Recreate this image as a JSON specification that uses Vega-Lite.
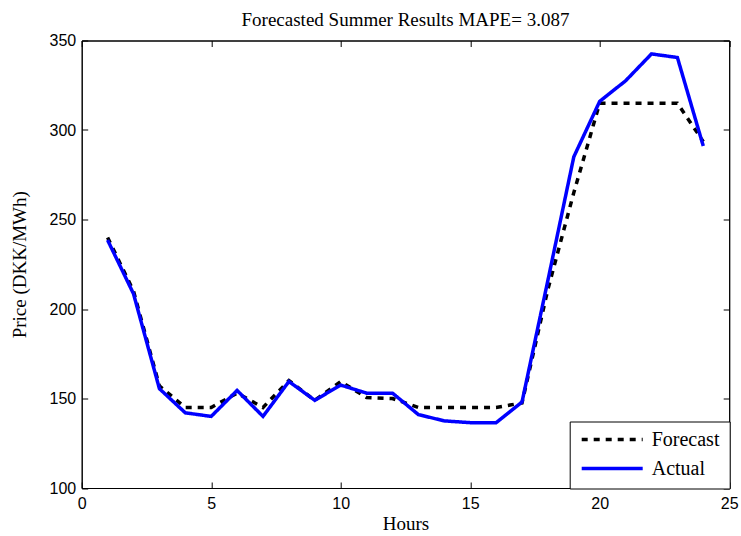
{
  "$schema": "https://vega.github.io/schema/vega-lite/v6.json",
  "autosize": "none",
  "width": 647.5,
  "height": 447.5,
  "padding": {"left": 81.7, "top": 40.5, "right": 11.8, "bottom": 48},
  "background": "white",
  "title": {
    "text": "Forecasted Summer Results MAPE= 3.087",
    "font": "Liberation Serif",
    "fontSize": 19,
    "fontWeight": "normal",
    "color": "black",
    "offset": 3
  },
  "config": {
    "view": {"stroke": "black", "strokeWidth": 1},
    "axis": {
      "domainColor": "black",
      "tickColor": "black",
      "grid": false,
      "labelFont": "Liberation Sans",
      "labelFontSize": 16,
      "labelColor": "black",
      "titleFont": "Liberation Serif",
      "titleFontSize": 19,
      "titleFontWeight": "normal",
      "titleColor": "black",
      "tickSize": -6
    },
    "legend": {
      "orient": "bottom-right",
      "offset": 0,
      "strokeColor": "black",
      "fillColor": "white",
      "padding": 10,
      "labelFont": "Liberation Serif",
      "labelFontSize": 20,
      "labelColor": "black",
      "labelOffset": 7,
      "symbolType": "stroke",
      "symbolSize": 3721,
      "symbolStrokeWidth": 3.5,
      "clipHeight": 16,
      "rowPadding": 9
    }
  },
  "data": {
    "values": [
      {"hour": 1, "series": "Forecast", "price": 240},
      {"hour": 2, "series": "Forecast", "price": 210},
      {"hour": 3, "series": "Forecast", "price": 157},
      {"hour": 4, "series": "Forecast", "price": 145},
      {"hour": 5, "series": "Forecast", "price": 145},
      {"hour": 6, "series": "Forecast", "price": 153},
      {"hour": 7, "series": "Forecast", "price": 145},
      {"hour": 8, "series": "Forecast", "price": 160},
      {"hour": 9, "series": "Forecast", "price": 149},
      {"hour": 10, "series": "Forecast", "price": 159.5},
      {"hour": 11, "series": "Forecast", "price": 150.5},
      {"hour": 12, "series": "Forecast", "price": 150},
      {"hour": 13, "series": "Forecast", "price": 145},
      {"hour": 14, "series": "Forecast", "price": 145},
      {"hour": 15, "series": "Forecast", "price": 145},
      {"hour": 16, "series": "Forecast", "price": 145},
      {"hour": 17, "series": "Forecast", "price": 147.5},
      {"hour": 18, "series": "Forecast", "price": 211},
      {"hour": 19, "series": "Forecast", "price": 265},
      {"hour": 20, "series": "Forecast", "price": 315},
      {"hour": 21, "series": "Forecast", "price": 315},
      {"hour": 22, "series": "Forecast", "price": 315},
      {"hour": 23, "series": "Forecast", "price": 315},
      {"hour": 24, "series": "Forecast", "price": 293.5},
      {"hour": 1, "series": "Actual", "price": 238.5},
      {"hour": 2, "series": "Actual", "price": 208.5},
      {"hour": 3, "series": "Actual", "price": 155.5},
      {"hour": 4, "series": "Actual", "price": 142},
      {"hour": 5, "series": "Actual", "price": 140},
      {"hour": 6, "series": "Actual", "price": 154.5},
      {"hour": 7, "series": "Actual", "price": 140},
      {"hour": 8, "series": "Actual", "price": 159.5},
      {"hour": 9, "series": "Actual", "price": 149},
      {"hour": 10, "series": "Actual", "price": 157.5},
      {"hour": 11, "series": "Actual", "price": 153},
      {"hour": 12, "series": "Actual", "price": 153},
      {"hour": 13, "series": "Actual", "price": 141},
      {"hour": 14, "series": "Actual", "price": 137.5},
      {"hour": 15, "series": "Actual", "price": 136.5},
      {"hour": 16, "series": "Actual", "price": 136.5},
      {"hour": 17, "series": "Actual", "price": 148},
      {"hour": 18, "series": "Actual", "price": 216},
      {"hour": 19, "series": "Actual", "price": 285},
      {"hour": 20, "series": "Actual", "price": 316},
      {"hour": 21, "series": "Actual", "price": 327.5},
      {"hour": 22, "series": "Actual", "price": 342.5},
      {"hour": 23, "series": "Actual", "price": 340.5},
      {"hour": 24, "series": "Actual", "price": 291}
    ]
  },
  "layer": [
    {
      "mark": {"type": "line", "strokeWidth": 3.5, "strokeCap": "butt", "strokeJoin": "miter"},
      "encoding": {
        "x": {
          "field": "hour", "type": "quantitative",
          "scale": {"domain": [0, 25], "nice": false, "zero": false},
          "axis": {"title": "Hours", "values": [0, 5, 10, 15, 20, 25], "labelPadding": 13, "titlePadding": 3, "labelFlush": false}
        },
        "y": {
          "field": "price", "type": "quantitative",
          "scale": {"domain": [100, 350], "nice": false, "zero": false},
          "axis": {"title": "Price (DKK/MWh)", "values": [100, 150, 200, 250, 300, 350], "labelPadding": 12, "titlePadding": 20, "labelFlush": false}
        },
        "color": {
          "field": "series", "type": "nominal",
          "scale": {"domain": ["Forecast", "Actual"], "range": ["black", "#0000ff"]},
          "legend": {"title": null}
        },
        "strokeDash": {
          "field": "series", "type": "nominal",
          "scale": {"domain": ["Forecast", "Actual"], "range": [[6, 6], [1, 0]]},
          "legend": {"title": null}
        },
        "order": {"field": "hour", "type": "quantitative"}
      }
    },
    {
      "mark": {"type": "line", "strokeOpacity": 0},
      "encoding": {
        "x": {
          "field": "hour", "type": "quantitative",
          "axis": {"orient": "top", "title": null, "labels": false, "values": [0, 5, 10, 15, 20, 25]}
        },
        "y": {
          "field": "price", "type": "quantitative",
          "axis": {"orient": "right", "title": null, "labels": false, "values": [100, 150, 200, 250, 300, 350]}
        },
        "detail": {"field": "series"}
      }
    }
  ],
  "resolve": {"axis": {"x": "independent", "y": "independent"}}
}
